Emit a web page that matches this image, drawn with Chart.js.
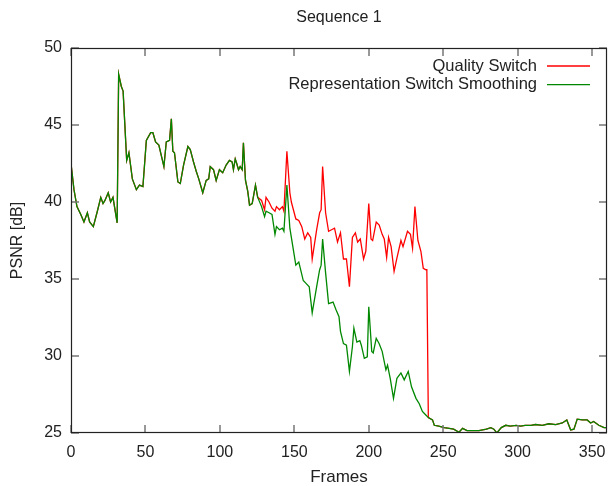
<!DOCTYPE html>
<html>
<head>
<meta charset="utf-8">
<script src="https://cdn.jsdelivr.net/npm/chart.js@4/dist/chart.umd.min.js"></script>
<style>
  html, body { margin: 0; padding: 0; background: #fff; }
  #wrap { width: 608px; height: 486px; }
</style>
</head>
<body>
<div id="wrap"><canvas id="psnr-chart" width="608" height="486"></canvas></div>
<script>
// frames 0..125: both curves are identical
const commonFrames = [0, 2, 4, 6.5, 8.7, 11, 12.5, 15, 17.7, 20, 21.5, 22.8, 25, 26.6, 28.2, 31,
  32, 33.8, 35, 37.4, 38.9, 41.2, 43.9, 46, 48.3, 50.6, 53.5, 55, 56.8, 59, 62.4, 64, 66.2,
  67.4, 68.4, 69.5, 71.8, 73.4, 75.6, 78.5, 80.1, 82.3, 84.1, 85.8, 88.5, 90.8, 92.5, 93.5,
  95.7, 97.5, 99.7, 101.9, 104.2, 106.4, 108.2, 109.1, 110.3, 111.3, 112.5, 113.6, 115,
  115.8, 117.2, 118.7, 119.9, 121.7, 123.9, 125.4];
const commonPsnr = [42.5, 40.8, 39.7, 39.2, 38.7, 39.3, 38.7, 38.4, 39.4, 40.3, 39.9, 40.1, 40.6, 40.0, 40.3, 38.65,
  48.3, 47.5, 47.2, 42.7, 43.2, 41.5, 40.8, 41.1, 41.0, 44.0, 44.5, 44.5, 43.9, 43.7, 42.3, 43.9, 44.0,
  45.4, 43.3, 43.2, 41.3, 41.2, 42.4, 43.6, 43.4, 42.6, 42.0, 41.5, 40.6, 41.4, 41.5, 42.3,
  42.1, 41.4, 42.1, 41.9, 42.4, 42.7, 42.6, 42.1, 42.8, 42.5, 42.1, 42.3, 42.1,
  43.85, 41.4, 40.7, 39.8, 39.9, 41.1, 40.3];

// frames 126..240: Quality Switch
const qsFrames = [128, 130, 131, 133, 135, 137, 138, 140, 142, 143, 145, 147, 148, 151, 153, 155,
  157, 159, 161, 162, 165, 167, 168, 169, 171, 173, 175, 177, 179, 181, 183, 185, 187, 189,
  191, 192.5, 194.3, 196.5, 198, 200, 201.5, 202.6, 205, 207, 209, 210.4, 212, 213.3, 215,
  217, 219, 221.6, 223, 226, 228, 229.4, 231, 233, 235, 236.6, 238.4, 239, 240];
const qsPsnr = [40.1, 39.5, 40.3, 40.0, 39.6, 39.4, 39.7, 39.5, 39.7, 39.4, 43.3, 40.6, 40.0, 38.9, 38.8, 38.4,
  37.6, 38.0, 37.7, 36.3, 38.2, 39.3, 39.5, 42.3, 39.3, 38.1, 38.2, 38.3, 37.4, 38.0, 36.3, 36.3, 34.5, 37.7,
  38.0, 37.4, 37.6, 36.3, 36.8, 39.9, 37.6, 37.5, 38.7, 38.5, 37.9, 37.6, 36.4, 37.7, 37.1,
  35.5, 36.4, 37.5, 37.1, 38.1, 37.9, 37.0, 39.7, 37.5, 36.8, 35.7, 35.6, 35.6, 26.0];

// frames 126..240: Representation Switch Smoothing
const rssFrames = [128, 130, 131, 133, 135, 137, 138, 140, 142, 143, 145, 147, 148, 151, 153, 156,
  158, 160, 162, 165, 167, 168, 169, 171, 173, 176, 178, 180, 181, 183, 185, 187, 189, 190,
  192, 194, 195, 197, 199, 200, 202, 203, 205, 207, 209, 211.5, 212.6, 214.4, 216.6, 218.9,
  221.6, 223.8, 226.5, 228.7, 231.7, 233.9, 236, 238, 240];
const rssPsnr = [39.7, 39.05, 39.4, 39.3, 39.2, 37.9, 38.4, 38.2, 38.3, 38.1, 41.1, 38.3, 37.7, 35.9, 36.1, 34.9,
  34.7, 34.5, 32.8, 34.5, 35.6, 35.9, 37.6, 35.4, 33.4, 33.5, 33.0, 32.55, 31.6, 30.8, 30.7, 29.0, 30.6, 31.8,
  30.9, 31.0, 30.7, 29.85, 29.95, 33.2, 30.3, 30.2, 31.15, 30.8, 30.3, 29.1, 29.4, 28.55, 27.25, 28.55,
  28.9, 28.45, 29.0, 28.0, 27.25, 26.9, 26.4, 26.2, 26.0];

// frames 241..360: both curves back together
const tailFrames = [242.8, 244, 247, 250.6, 254, 257, 260.6, 263, 266, 270, 274, 279, 282, 284, 286,
  289, 292, 295, 299, 302, 305, 309, 312, 316.5, 321, 325.5, 330, 333, 335.6, 337.8, 340,
  343.4, 346.7, 349, 351, 354.5, 358, 360];
const tailPsnr = [25.85, 25.5, 25.45, 25.35, 25.3, 25.25, 25.05, 25.3, 25.15, 25.15, 25.15, 25.25, 25.35, 25.25, 25.0,
  25.35, 25.5, 25.45, 25.5, 25.45, 25.5, 25.5, 25.55, 25.5, 25.6, 25.55, 25.65, 25.85, 25.2, 25.25, 25.9,
  25.85, 25.85, 25.65, 25.75, 25.5, 25.35, 25.35];

const seriesLabels = ['Quality Switch', 'Representation Switch Smoothing'];
const seriesColors = ['#ff0000', '#008800'];
const chartTitle = 'Sequence 1';

function toPoints(frames, values) {
  return frames.map((f, i) => ({ x: f, y: values[i] }));
}

const qualityPoints = toPoints(commonFrames, commonPsnr)
  .concat(toPoints(qsFrames, qsPsnr), toPoints(tailFrames, tailPsnr));
const smoothingPoints = toPoints(commonFrames, commonPsnr)
  .concat(toPoints(rssFrames, rssPsnr), toPoints(tailFrames, tailPsnr));

const fontFamily = '"Liberation Sans", Arial, sans-serif';

// gnuplot style frame: box all round, ticks pointing inwards on every side
const frameBox = {
  id: 'frameBox',
  afterDatasetsDraw(chart) {
    const { ctx, chartArea: a, scales: { x, y } } = chart;
    ctx.save();
    ctx.strokeStyle = '#777';
    ctx.lineWidth = 1.5;
    ctx.beginPath();
    x.ticks.forEach(t => {
      const px = Math.round(x.getPixelForValue(t.value));
      ctx.moveTo(px, a.bottom); ctx.lineTo(px, a.bottom - 8);
      ctx.moveTo(px, a.top); ctx.lineTo(px, a.top + 8);
    });
    y.ticks.forEach(t => {
      const py = Math.round(y.getPixelForValue(t.value));
      ctx.moveTo(a.left, py); ctx.lineTo(a.left + 8, py);
      ctx.moveTo(a.right, py); ctx.lineTo(a.right - 8, py);
    });
    ctx.stroke();
    ctx.strokeStyle = '#222';
    ctx.lineWidth = 1.2;
    ctx.strokeRect(a.left + 0.5, a.top + 0.5, a.width - 1, a.height - 1);
    ctx.restore();
  }
};

// title centred over the plot and legend inside it, text right aligned with the line sample after it
const titleAndLegend = {
  id: 'titleAndLegend',
  afterDraw(chart) {
    const { ctx, chartArea: a } = chart;
    ctx.save();
    ctx.fillStyle = '#222';
    ctx.font = '16px ' + fontFamily;
    ctx.textAlign = 'center';
    ctx.textBaseline = 'middle';
    ctx.fillText(chartTitle, (a.left + a.right) / 2, 18);

    ctx.font = '16.5px ' + fontFamily;
    ctx.textAlign = 'right';
    chart.data.datasets.forEach((ds, i) => {
      const yy = a.top + 18 + i * 18.7;
      ctx.fillStyle = '#222';
      ctx.fillText(ds.label, a.right - 70, yy);
      ctx.strokeStyle = ds.borderColor;
      ctx.lineWidth = 1.3;
      ctx.beginPath();
      ctx.moveTo(a.right - 60, yy);
      ctx.lineTo(a.right - 17, yy);
      ctx.stroke();
    });
    ctx.restore();
  }
};

const psnrCanvas = document.getElementById('psnr-chart');

let psnrChart = new Chart(psnrCanvas, {
  type: 'line',
  data: {
    datasets: [{
      label: seriesLabels[0],
      data: qualityPoints,
      borderColor: seriesColors[0],
      borderWidth: 1.3,
      pointRadius: 0,
      tension: 0,
      order: 1
    }, {
      label: seriesLabels[1],
      data: smoothingPoints,
      borderColor: seriesColors[1],
      borderWidth: 1.3,
      pointRadius: 0,
      tension: 0,
      order: 0
    }]
  },
  options: {
    responsive: false,
    animation: false,
    devicePixelRatio: 1,
    layout: {
      padding: { left: 0, right: 1, top: 48, bottom: 0 }
    },
    scales: {
      x: {
        type: 'linear',
        min: 0,
        max: 360,
        grid: { display: false, drawTicks: false },
        border: { display: false },
        ticks: {
          stepSize: 50,
          includeBounds: false,
          padding: 10,
          maxRotation: 0,
          color: '#222',
          font: { family: fontFamily, size: 16 }
        },
        title: {
          display: true,
          text: 'Frames',
          color: '#222',
          padding: { top: 0, bottom: -2 },
          font: { family: fontFamily, size: 17 }
        },
        afterFit(scale) {
          scale.height = 53;
          scale.paddingLeft = 0;
          scale.paddingRight = 0;
        }
      },
      y: {
        min: 25,
        max: 50,
        grid: { display: false, drawTicks: false },
        border: { display: false },
        ticks: {
          stepSize: 5,
          padding: 9,
          color: '#222',
          font: { family: fontFamily, size: 16 }
        },
        title: {
          display: true,
          text: 'PSNR [dB]',
          color: '#222',
          padding: { top: 8, bottom: 0 },
          font: { family: fontFamily, size: 16 }
        },
        afterFit(scale) {
          scale.width = 71;
          scale.paddingTop = 0;
          scale.paddingBottom = 0;
        }
      }
    },
    plugins: {
      legend: { display: false },
      tooltip: { enabled: false },
      title: { display: false }
    }
  },
  plugins: [frameBox, titleAndLegend]
});
</script>
</body>
</html>
